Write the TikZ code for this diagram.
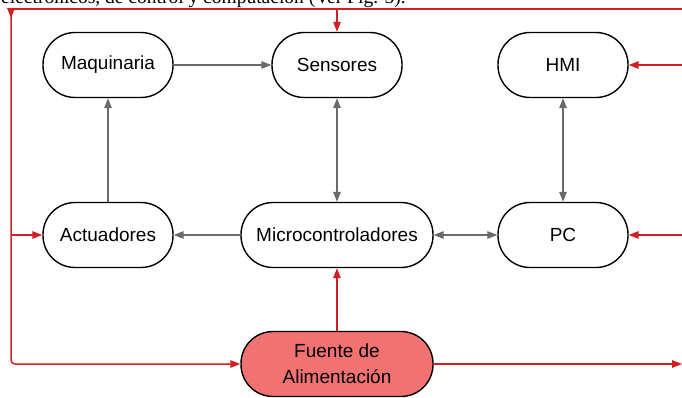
\documentclass[tikz,border=0pt]{standalone}
\usepackage{fontspec}
\setmainfont{Liberation Serif}
\setsansfont{Liberation Sans}
\usetikzlibrary{arrows.meta}

\definecolor{pwrred}{HTML}{D21F26}
\definecolor{sigGray}{HTML}{6A6A6A}
\definecolor{srcfill}{HTML}{F27272}

\tikzset{
  block/.style={draw=black, line width=1.4pt, rounded corners=32pt, minimum height=65pt,
    minimum width=130pt, align=center, font=\sffamily\fontsize{19}{26}\selectfont},
  wideblock/.style={block, minimum width=192pt},
  sig/.style={draw=sigGray, line width=1.3pt, -{Triangle[length=10pt,width=7.5pt]}},
  sigboth/.style={sig, {Triangle[length=10pt,width=7.5pt]}-{Triangle[length=10pt,width=7.5pt]}},
  pwr/.style={draw=pwrred, line width=1.5pt},
  pwrarrow/.style={pwr, -{Triangle[length=10pt,width=7.5pt]}}
}

\begin{document}
\begin{tikzpicture}[x=1pt, y=1pt]
  \useasboundingbox (0,0) rectangle (682,397);

  % Text line above the figure (cut off)
  \node[anchor=base west, inner sep=0pt, font=\rmfamily\fontsize{19.5}{22}\selectfont] (caption) at (1,393)
    {electrónicos, de control y computación (Ver Fig. 5).};

  % Blocks
  \node[block] (maq) at (108,332) {Maquinaria};
  \node[block] (sens) at (337,332) {Sensores};
  \node[block] (hmi) at (563,332) {HMI};
  \node[block] (act) at (108,162) {Actuadores};
  \node[wideblock] (micro) at (337,162) {Microcontroladores};
  \node[block] (pc) at (563,162) {PC};
  \node[wideblock, fill=srcfill] (fuente) at (337,33) {Fuente de\\Alimentación};

  % Define coordinates of the power rail
  \coordinate (tl) at (11,388);
  \coordinate (tr) at (682,388);
  \coordinate (bl) at (11,33);
  \coordinate (r1) at (682,332);
  \coordinate (r2) at (682,162);
  \coordinate (br) at (682,33);

  % Signal connections
  \draw[sig] (maq) -- (sens);
  \draw[sig] (act) -- (maq);
  \draw[sigboth] (sens) -- (micro);
  \draw[sig] (micro) -- (act);
  \draw[sigboth] (micro) -- (pc);
  \draw[sigboth] (hmi) -- (pc);

  % Power connections
  \draw[pwr] (tl) -- (tr);
  \draw[pwrarrow] (tl) -- ++(0,-9);
  \draw[pwrarrow] (sens |- tl) -- (sens);
  \draw[pwrarrow, rounded corners=4pt] (tl) -- (bl) -- (fuente);
  \draw[pwrarrow, rounded corners=4pt] (tl |- act) -- (act);
  \draw[pwrarrow] (r1) -- (hmi);
  \draw[pwrarrow] (r2) -- (pc);
  \draw[pwrarrow] (fuente) -- (br);
  \draw[pwrarrow] (fuente) -- (micro);
\end{tikzpicture}
\end{document}
